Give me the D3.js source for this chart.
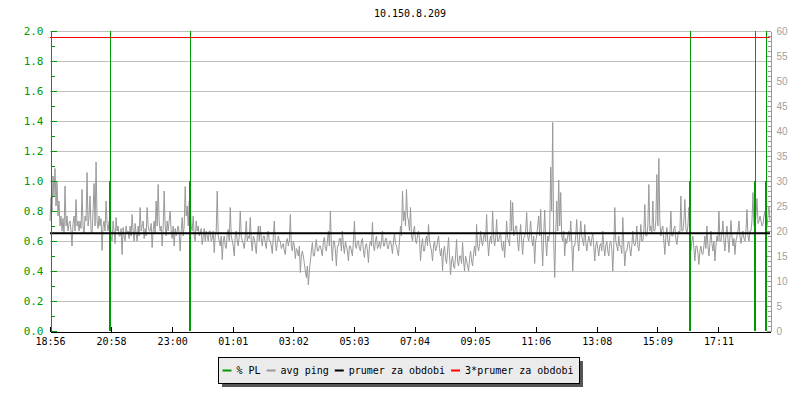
<!DOCTYPE html>
<html>
<head>
<meta charset="utf-8">
<script src="https://cdn.jsdelivr.net/npm/d3@7"></script>
<style>
  body { margin: 0; background: #fff; }
  svg { display: block; }
</style>
</head>
<body>
<svg id="chart" width="800" height="400"></svg>
<script>
(function() {

    var width = 800, height = 400

    // data
    var title = "10.150.8.209"
    var startTime = "18:56"
    var spanMinutes = 1438
    var tickLabels = ["18:56", "20:58", "23:00", "01:01", "03:02", "05:03",
                      "07:04", "09:05", "11:06", "13:08", "15:09", "17:11"]

    // avg ping in ms, one sample every 2 minutes from 18:56
    var pingStep = 2
    var pingValues = [
        22, 26.7, 24, 31, 27, 32.5, 25, 30, 23, 26,
        21, 23, 20, 22.5, 19.5, 29, 21, 23, 20, 21.5,
        22, 20, 17, 21.5, 23, 20, 26.3, 21, 22, 20,
        22, 20.5, 28.3, 21, 19.5, 23, 22, 31.7, 21, 23,
        27, 20, 19.5, 24, 29.5, 21, 33.8, 22, 20.5, 23,
        21, 22.5, 16.1, 21, 22, 20, 26, 21.5, 20, 22,
        21.5, 19, 18, 22, 20, 17.5, 22.7, 20, 21, 19,
        19, 20.5, 15.3, 20.7, 19, 18, 21, 19.5, 20, 18.5,
        21, 19, 23.3, 20, 18, 21.5, 19.5, 18, 21, 19,
        24.7, 20, 21, 22, 18.5, 20.5, 19, 24.7, 21, 20,
        20, 21.5, 16.7, 20, 22, 19.5, 26, 21, 29.3, 22,
        20, 21, 17, 20.5, 28, 21, 19, 22, 20, 22,
        24, 20, 18.5, 21, 17, 20.5, 19, 20, 21, 19.5,
        16, 20, 22.7, 19, 21, 28.9, 23, 25, 21, 26,
        25.3, 21, 20, 23, 19, 18, 22, 20, 21, 19,
        19.5, 20.5, 17.3, 19, 20.5, 18, 20, 19, 18, 20,
        20, 18, 18.5, 20, 15.7, 19, 20, 28, 19, 18,
        17, 19, 14.3, 18, 19, 17, 16.5, 19.5, 20.3, 18,
        24.7, 19, 18, 17, 15, 19, 20, 18, 17, 19,
        24, 19, 18, 17.5, 16.5, 19, 22, 18, 19, 18.5,
        22.7, 18, 16, 19, 18.5, 17, 15.5, 19, 21, 18,
        21, 18.5, 17, 19, 19, 17.5, 16.5, 19, 20, 18,
        18, 17, 15.5, 19, 22, 18, 16, 17.5, 19, 18,
        18, 16.5, 17, 17.5, 16, 15.3, 18, 18.5, 17, 18,
        23.3, 17, 16, 18, 17, 14.5, 16.5, 16, 15, 17,
        11.7, 15, 16, 15, 13.5, 12, 10.7, 13, 9.2, 12,
        14, 16, 17.7, 15, 15, 17, 18.3, 16, 16, 17,
        17, 16, 15, 18, 18.7, 16.5, 16, 18, 20, 17,
        24, 17, 14, 18, 18, 16, 13, 17, 17, 18.5,
        18.5, 16, 20, 17, 15.5, 18, 17, 16, 14, 17,
        17, 16, 15, 18, 22, 17, 16.5, 18, 18, 16.5,
        16, 18, 18.5, 16, 14.7, 17, 17.5, 16, 13.7, 17,
        18, 17, 21.7, 17, 16, 18, 19, 16.5, 17, 18,
        16.5, 18, 20, 17, 17, 18.5, 18.5, 16.5, 16.5, 18,
        18, 17, 15.5, 18, 19.5, 17.5, 17, 16, 15, 18,
        21, 19, 28, 22, 24, 21, 28.3, 23, 22, 20,
        24.7, 19, 18, 20, 21, 18, 17.5, 19, 20, 18.5,
        14.1, 17, 18.5, 16, 16, 18, 19, 17, 21.3, 18,
        17, 16, 14, 17, 18, 16, 16.5, 18, 19, 16.5,
        15, 16.5, 12, 16, 17, 14.5, 13.5, 16, 18.7, 15,
        11.2, 14, 15, 13, 12.5, 15, 18.3, 14, 13, 15,
        15, 13.5, 17.7, 14, 12, 15, 14, 13, 12, 14.5,
        16, 14, 13, 15.5, 17, 15, 21.3, 17, 16, 17.5,
        20, 18, 17, 19, 19.5, 18, 23.3, 18, 15, 18,
        19, 17.5, 24, 19, 17, 18.5, 22.3, 18, 18, 19,
        19.5, 17, 16, 18, 14.7, 18, 22, 18.5, 18, 17,
        26.1, 20, 25.7, 19, 19.5, 21, 21, 18, 16, 19,
        21.3, 18, 15.3, 18.5, 19, 20, 23.7, 19, 18, 19.5,
        22, 18.5, 17, 19, 13.5, 18, 19, 21, 23, 19,
        24.3, 18, 13, 19, 24.2, 18, 15, 19, 18, 20,
        32.8, 24, 41.7, 18, 10.7, 19, 26, 20, 30.2, 21,
        27.7, 19, 18, 20, 15, 18.5, 17.5, 19, 20, 18,
        22, 18, 12, 17, 17, 19, 22.3, 18, 16, 19,
        22, 19, 18, 17, 21.3, 18, 16, 17.5, 19, 18,
        17, 18.5, 19.5, 17, 14, 17, 18, 16.5, 15, 17,
        17.5, 16, 20, 17, 15, 17, 18, 16, 15, 17.5,
        18, 16.5, 12, 17, 24.7, 18, 17, 16, 19, 17,
        17, 15.5, 22.7, 17, 13, 16, 16, 17.5, 18, 16.5,
        15, 17, 20, 17.5, 17, 18, 21, 17, 16, 18,
        21.3, 18, 18, 20, 25.3, 19, 19, 21, 29.3, 20,
        21, 19.5, 26, 20, 20, 22, 31.3, 21, 34.5, 22,
        19, 20.5, 21, 18, 15.3, 19, 20.7, 18, 17, 19,
        24, 19, 19, 20.5, 21, 18.5, 17.3, 19, 20, 19.5,
        27, 20, 20, 22, 26.3, 20.5, 19.5, 21, 24.7, 20,
        16, 18, 19, 16.5, 14, 17, 17, 15.5, 13.3, 16,
        17, 15.5, 15.3, 17, 19, 16.5, 21, 17, 15, 17.5,
        20, 17.5, 16, 18, 14, 17, 19, 18, 24, 18,
        18, 19.5, 22, 18, 16, 19, 21, 18.5, 15.7, 19,
        22.1, 19, 17, 18.5, 15.3, 18, 19, 20, 22, 19,
        17.5, 19, 20, 18.5, 18, 20, 24.3, 19, 18, 20,
        20, 22, 27.7, 21, 21, 23, 26.5, 21.5, 22, 23,
        22, 21, 21.3, 23, 24, 21, 20.7, 23, 25, 22
    ]
    var pingMean = 19.57

    // packet loss events (minutes after start, % PL)
    var plMinutes = [120, 280, 1278, 1409, 1430]
    var plValues = [1.0, 1.0, 1.0, 1.0, 1.0]

    var legendNames = ["% PL", "avg ping", "prumer za obdobi", "3*prumer za obdobi"]
    var legendColors = ["#009900", "#999999", "#000000", "#ff0000"]

    var margin = {left: 50, right: 30, top: 31, bottom: 69}
    var mono = "'DejaVu Sans Mono', monospace"

    var svg = d3.select("#chart")

    // time helpers
    var parseHM = d3.timeParse("%H:%M")
    var t0 = parseHM(startTime)
    var t1 = d3.timeMinute.offset(t0, spanMinutes)
    var tickTimes = tickLabels.map(function(s) {
        var t = parseHM(s)
        if (t < t0) t = d3.timeDay.offset(t, 1)
        return t
    })

    var x = d3.scaleTime().domain([t0, t1]).range([margin.left, width - margin.right])
    var yPL = d3.scaleLinear().domain([0, 2]).range([height - margin.bottom, margin.top])
    var yMs = d3.scaleLinear().domain([0, 60]).range([height - margin.bottom, margin.top])

    // title
    svg.append("text")
        .attr("x", (margin.left + width - margin.right) / 2)
        .attr("y", 17)
        .attr("text-anchor", "middle")
        .style("font-family", mono).style("font-size", "10px")
        .text(title)

    // horizontal grid
    svg.append("g")
        .selectAll("line")
        .data(d3.range(0.2, 2.01, 0.2))
        .join("line")
        .attr("x1", margin.left).attr("x2", width - margin.right)
        .attr("y1", function(d) { return Math.round(yPL(d)) + 0.5 })
        .attr("y2", function(d) { return Math.round(yPL(d)) + 0.5 })
        .attr("stroke", "#c0c0c0")

    // avg ping
    var pingLine = d3.line()
        .x(function(d, i) { return x(d3.timeMinute.offset(t0, i * pingStep)) })
        .y(function(d) { return yMs(d) })

    svg.append("path")
        .datum(pingValues)
        .attr("d", pingLine)
        .attr("fill", "none")
        .attr("stroke", "#999999")
        .attr("stroke-width", 1)

    // packet loss markers
    var pl = svg.append("g")
    plMinutes.forEach(function(m, i) {
        var px = Math.round(x(d3.timeMinute.offset(t0, m)))
        pl.append("rect")
            .attr("x", px).attr("width", 1)
            .attr("y", yPL(2)).attr("height", yPL(0) - yPL(2))
            .attr("fill", "#009900")
        pl.append("rect")
            .attr("x", px - 1).attr("width", 2)
            .attr("y", yPL(plValues[i])).attr("height", yPL(0) - yPL(plValues[i]))
            .attr("fill", "#009900")
    })

    // mean and 3*mean
    svg.append("line")
        .attr("x1", margin.left).attr("x2", width - margin.right)
        .attr("y1", yMs(pingMean)).attr("y2", yMs(pingMean))
        .attr("stroke", "#000").attr("stroke-width", 2)
    svg.append("line")
        .attr("x1", margin.left).attr("x2", width - margin.right)
        .attr("y1", Math.round(yMs(3 * pingMean)) + 0.5).attr("y2", Math.round(yMs(3 * pingMean)) + 0.5)
        .attr("stroke", "#ff0000").attr("stroke-width", 1)

    // x axis
    var xAxis = svg.append("g")
        .attr("transform", "translate(0," + (yPL(0) + 0.5) + ")")
        .call(d3.axisBottom(x).tickValues(tickTimes).tickFormat(d3.timeFormat("%H:%M"))
            .tickSizeInner(-5).tickSizeOuter(0).tickPadding(6))
    xAxis.selectAll("text").style("font-family", mono).style("font-size", "10px").attr("fill", "#000")
    xAxis.selectAll("line").attr("stroke", "#000")
    xAxis.select(".domain").attr("stroke", "#000")

    // left axis (% PL), green
    var leftMinor = svg.append("g")
        .attr("transform", "translate(" + (margin.left + 0.5) + ",0)")
        .call(d3.axisLeft(yPL).tickValues(d3.range(0, 2.01, 0.1)).tickSizeInner(-4).tickSizeOuter(0).tickFormat(""))
    leftMinor.selectAll("line, path").attr("stroke", "#009900")

    var leftAxis = svg.append("g")
        .attr("transform", "translate(" + (margin.left + 0.5) + ",0)")
        .call(d3.axisLeft(yPL).tickValues(d3.range(0, 2.01, 0.2)).tickFormat(d3.format(".1f"))
            .tickSizeInner(-6).tickSizeOuter(0).tickPadding(7))
    leftAxis.selectAll("line, path").attr("stroke", "#009900")
    leftAxis.selectAll("text").attr("fill", "#009900").style("font-family", mono).style("font-size", "11px")

    // right axis (ms), gray
    var rx = width - margin.right + 0.5
    var rightMinor = svg.append("g")
        .attr("transform", "translate(" + rx + ",0)")
        .call(d3.axisRight(yMs).tickValues(d3.range(0, 61, 1)).tickSizeInner(-3).tickSizeOuter(0).tickFormat(""))
    rightMinor.selectAll("line, path").attr("stroke", "#999999")

    var rightAxis = svg.append("g")
        .attr("transform", "translate(" + rx + ",0)")
        .call(d3.axisRight(yMs).tickValues(d3.range(0, 61, 5)).tickSizeInner(-4).tickSizeOuter(0).tickPadding(6))
    rightAxis.selectAll("line, path").attr("stroke", "#999999")
    rightAxis.selectAll("text").attr("fill", "#a0a0a0")
        .style("font-family", "'Liberation Sans', Arial, sans-serif").style("font-size", "10px")

    svg.selectAll("g line, .domain").attr("shape-rendering", "crispEdges")

    // legend
    var legend = svg.append("g")
    legend.append("rect")
        .attr("x", 222).attr("y", 361).attr("width", 361).attr("height", 26)
        .attr("fill", "#555")
    legend.append("rect")
        .attr("x", 218.5).attr("y", 357.5).attr("width", 361).attr("height", 26)
        .attr("fill", "#ebebeb").attr("stroke", "#000")

    var lx = 222.5
    legendNames.forEach(function(name, i) {
        legend.append("line")
            .attr("x1", lx).attr("x2", lx + 9)
            .attr("y1", 370.5).attr("y2", 370.5)
            .attr("stroke", legendColors[i]).attr("stroke-width", 2)
        var t = legend.append("text")
            .attr("x", lx + 14).attr("y", 374)
            .style("font-family", mono).style("font-size", "10px")
            .text(name)
        lx = lx + 14 + t.node().getComputedTextLength() + 6
    })

})();
</script>
</body>
</html>
